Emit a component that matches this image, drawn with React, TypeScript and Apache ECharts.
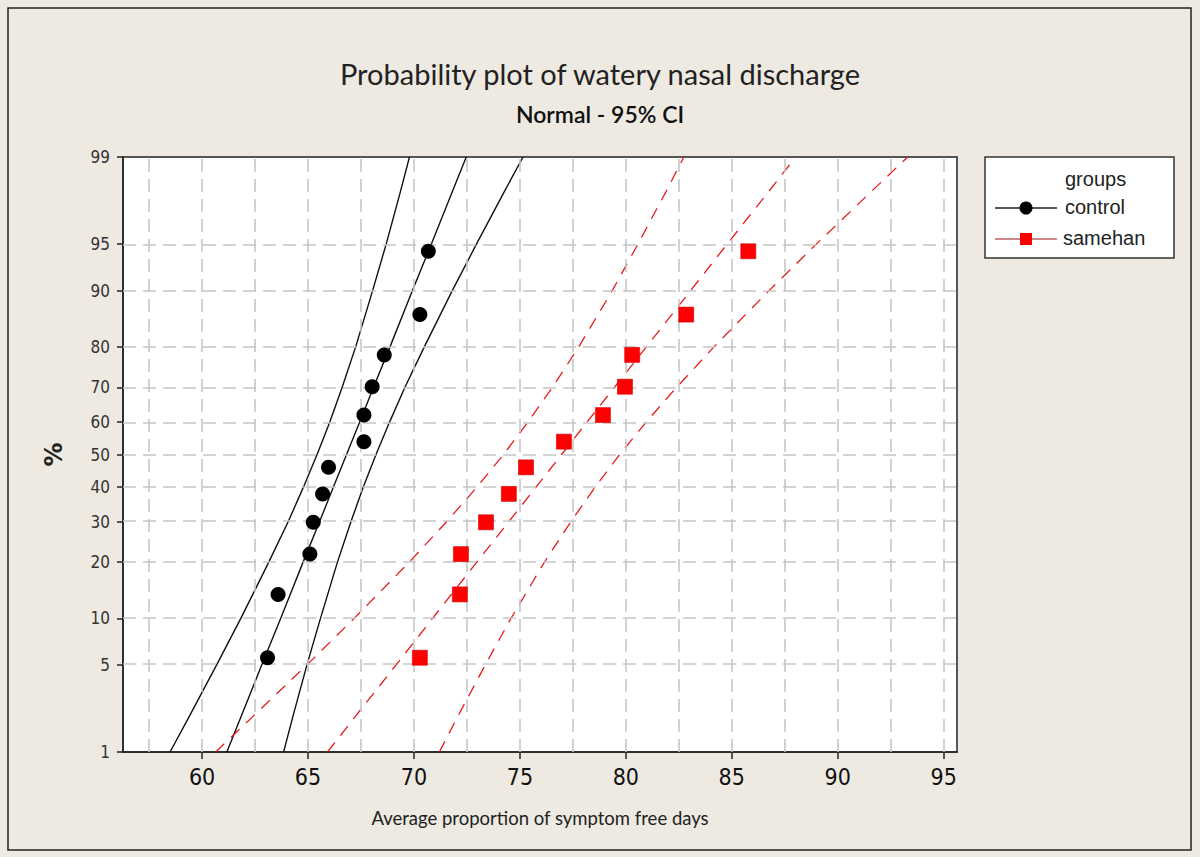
import React, { useEffect, useRef } from "react";
import * as echarts from "echarts";

// ---------- texts ----------
const titleText = "Probability plot of watery nasal discharge";
const subtitleText = "Normal - 95% CI";
const xAxisTitle = "Average proportion of symptom free days";
const yAxisTitle = "%";
const legendTitle = "groups";
const groupNames = ["control", "samehan"];

// ---------- axes ----------
const xTickValues = [60, 65, 70, 75, 80, 85, 90, 95];
const xGridValues = [57.5, 60, 62.5, 65, 67.5, 70, 72.5, 75, 77.5, 80, 82.5, 85, 87.5, 90, 92.5, 95];
const yTickPercents = [1, 5, 10, 20, 30, 40, 50, 60, 70, 80, 90, 95, 99];
const yGridPercents = [5, 10, 20, 30, 40, 50, 60, 70, 80, 90, 95];

// ---------- data points (plotting positions in %) ----------
const pointPercents = [5.6, 13.7, 21.8, 29.8, 37.9, 46.0, 54.0, 62.1, 70.2, 78.2, 86.3, 94.4];
const controlValues = [63.09, 63.59, 65.09, 65.25, 65.69, 65.97, 67.64, 67.64, 68.03, 68.6, 70.28, 70.68];
const samehanValues = [70.28, 72.17, 72.22, 73.4, 74.48, 75.29, 77.08, 78.92, 79.96, 80.3, 82.85, 85.78];

// ---------- fitted lines and 95% CI bands (read at these percents) ----------
const bandPercents = [1, 2, 5, 10, 20, 30, 40, 50, 60, 70, 80, 90, 95, 98, 99];
const controlLower = [58.49, 59.38, 60.69, 61.83, 63.15, 64.07, 64.79, 65.43, 66.03, 66.61, 67.25, 68.05, 68.69, 69.36, 69.79];
const controlFit = [61.17, 61.83, 62.82, 63.71, 64.77, 65.55, 66.2, 66.82, 67.44, 68.09, 68.87, 69.93, 70.82, 71.81, 72.47];
const controlUpper = [63.85, 64.28, 64.95, 65.59, 66.39, 67.03, 67.61, 68.21, 68.85, 69.57, 70.49, 71.81, 72.95, 74.26, 75.15];
const samehanLower = [60.64, 62.37, 64.95, 67.18, 69.78, 71.55, 72.98, 74.23, 75.38, 76.53, 77.78, 79.36, 80.57, 81.89, 82.74];
const samehanFit = [65.92, 67.21, 69.16, 70.88, 72.97, 74.48, 75.77, 76.97, 78.17, 79.46, 80.97, 83.06, 84.78, 86.73, 88.02];
const samehanUpper = [71.2, 72.05, 73.37, 74.58, 76.16, 77.41, 78.56, 79.71, 80.96, 82.39, 84.16, 86.76, 88.99, 91.57, 93.3];

// Normal probability scale: percent -> standard normal quantile (Acklam)
function probit(p: number): number {
  const a = [-39.69683028665376, 220.9460984245205, -275.9285104469687, 138.357751867269, -30.66479806614716, 2.506628277459239];
  const b = [-54.47609879822406, 161.5858368580409, -155.6989798598866, 66.80131188771972, -13.28068155288572];
  const c = [-0.007784894002430293, -0.3223964580411365, -2.400758277161838, -2.549732539343734, 4.374664141464968, 2.938163982698783];
  const d = [0.007784695709041462, 0.3224671290700398, 2.445134137142996, 3.754408661907416];
  const plow = 0.02425;
  if (p < plow) {
    const q = Math.sqrt(-2 * Math.log(p));
    return (((((c[0] * q + c[1]) * q + c[2]) * q + c[3]) * q + c[4]) * q + c[5]) / ((((d[0] * q + d[1]) * q + d[2]) * q + d[3]) * q + 1);
  }
  if (p <= 1 - plow) {
    const q = p - 0.5;
    const r = q * q;
    return ((((((a[0] * r + a[1]) * r + a[2]) * r + a[3]) * r + a[4]) * r + a[5]) * q) / (((((b[0] * r + b[1]) * r + b[2]) * r + b[3]) * r + b[4]) * r + 1);
  }
  const q = Math.sqrt(-2 * Math.log(1 - p));
  return -(((((c[0] * q + c[1]) * q + c[2]) * q + c[3]) * q + c[4]) * q + c[5]) / ((((d[0] * q + d[1]) * q + d[2]) * q + d[3]) * q + 1);
}
const zOf = (pct: number) => probit(pct / 100);

const pairs = (xs: number[], pcts: number[]) => xs.map((x, i) => [x, zOf(pcts[i])]);

const BLACK = "#111111";
const RED = "#e41c1c";
const GRID_TOP = 157;
const GRID_LEFT = 123;
const GRID_W = 834;
const GRID_H = 595;

export default function App() {
  const ref = useRef<HTMLDivElement>(null);

  useEffect(() => {
    if (!ref.current) return;
    const chart = echarts.init(ref.current, null, { renderer: "svg" });

    const yTickZ = yTickPercents.map(zOf);
    const yFormatter = (v: number) => {
      let best = 0;
      let bd = Infinity;
      yTickZ.forEach((z, i) => {
        const dd = Math.abs(z - v);
        if (dd < bd) {
          bd = dd;
          best = i;
        }
      });
      return String(yTickPercents[best]);
    };

    const gridLine = { color: "#c6c6c6", width: 1.6, type: [13, 7] as number[] };
    const blackLine = { color: BLACK, width: 1.4, type: "solid" as const };
    const redLine = { color: RED, width: 1.3, type: [12, 9] as number[] };

    const lineSeries = (name: string, xs: number[], style: any) => ({
      type: "line",
      name,
      data: pairs(xs, bandPercents),
      showSymbol: false,
      symbol: "none",
      lineStyle: style,
      z: 3,
      silent: true,
      clip: true,
    });

    const lx = 985;
    const ly = 157;
    const legendFont = { fontFamily: "Liberation Sans", fontSize: 20, fill: "#222", verticalAlign: "middle" };

    const option: any = {
      animation: false,
      backgroundColor: "#eeeae2",
      title: [
        {
          text: titleText,
          left: "center",
          top: 54,
          textStyle: { fontFamily: "Lato", fontSize: 29, fontWeight: "normal", color: "#222" },
        },
        {
          text: subtitleText,
          left: "center",
          top: 97,
          textStyle: { fontFamily: "Lato", fontSize: 23, fontWeight: 600, color: "#111" },
        },
      ],
      grid: {
        left: GRID_LEFT,
        top: GRID_TOP,
        width: GRID_W,
        height: GRID_H,
        show: true,
        backgroundColor: "#ffffff",
        borderColor: "#222",
        borderWidth: 1.5,
      },
      xAxis: {
        type: "value",
        min: 56.27,
        max: 95.63,
        name: xAxisTitle,
        nameLocation: "middle",
        nameGap: 56,
        nameTextStyle: { fontFamily: "Lato", fontSize: 18.5, color: "#222" },
        axisLine: { show: true, onZero: false, lineStyle: { color: "#222", width: 1.5 } },
        axisTick: { show: true, length: 7, customValues: xTickValues, lineStyle: { color: "#222", width: 1.5 } },
        axisLabel: {
          customValues: xTickValues,
          margin: 13,
          fontFamily: "DejaVu Sans Condensed",
          fontSize: 23,
          color: "#111",
        },
        splitLine: { show: false },
      },
      yAxis: {
        type: "value",
        min: zOf(1),
        max: zOf(99),
        name: yAxisTitle,
        nameLocation: "middle",
        nameGap: 57,
        nameRotate: 90,
        nameTextStyle: { fontFamily: "DejaVu Sans", fontSize: 24, fontWeight: "bold", color: "#222" },
        axisLine: { show: true, onZero: false, lineStyle: { color: "#222", width: 1.5 } },
        axisTick: { show: true, length: 6, customValues: yTickZ, lineStyle: { color: "#222", width: 1.5 } },
        axisLabel: {
          customValues: yTickZ,
          formatter: yFormatter,
          margin: 13,
          fontFamily: "DejaVu Sans Condensed",
          fontSize: 17,
          color: "#333",
        },
        splitLine: { show: false },
      },
      series: [
        {
          type: "line",
          name: "grid",
          data: [],
          z: 1,
          silent: true,
          markLine: {
            silent: true,
            symbol: ["none", "none"],
            label: { show: false },
            lineStyle: gridLine,
            data: [
              ...xGridValues.map((v) => ({ xAxis: v })),
              ...yGridPercents.map((p) => ({ yAxis: zOf(p) })),
            ],
          },
        },
        lineSeries("controlLower", controlLower, blackLine),
        lineSeries("controlFit", controlFit, blackLine),
        lineSeries("controlUpper", controlUpper, blackLine),
        lineSeries("samehanLower", samehanLower, redLine),
        lineSeries("samehanFit", samehanFit, redLine),
        lineSeries("samehanUpper", samehanUpper, redLine),
        {
          type: "scatter",
          name: groupNames[0],
          data: pairs(controlValues, pointPercents),
          symbol: "circle",
          symbolSize: 15,
          itemStyle: { color: "#000", opacity: 1 },
          z: 5,
        },
        {
          type: "scatter",
          name: groupNames[1],
          data: pairs(samehanValues, pointPercents),
          symbol: "rect",
          symbolSize: 15,
          itemStyle: { color: "#ff0000", borderColor: "#d00000", borderWidth: 0.6, opacity: 1 },
          z: 5,
        },
      ],
      graphic: [
        {
          type: "rect",
          shape: { x: 8, y: 8, width: 1183, height: 842 },
          style: { fill: "none", stroke: "#222", lineWidth: 1.5 },
          silent: true,
        },
        {
          type: "group",
          children: [
            {
              type: "rect",
              shape: { x: lx, y: ly, width: 189, height: 101 },
              style: { fill: "#fff", stroke: "#333", lineWidth: 1.5 },
            },
            { type: "text", x: 1065, y: 179, style: { ...legendFont, text: legendTitle } },
            { type: "line", shape: { x1: 995, y1: 208, x2: 1057, y2: 208 }, style: { stroke: "#222", lineWidth: 1.5 } },
            { type: "circle", shape: { cx: 1026, cy: 208, r: 6.5 }, style: { fill: "#000" } },
            { type: "text", x: 1065, y: 207, style: { ...legendFont, text: groupNames[0] } },
            { type: "line", shape: { x1: 995, y1: 239, x2: 1057, y2: 239 }, style: { stroke: "#b86060", lineWidth: 1.5 } },
            { type: "rect", shape: { x: 1020, y: 233, width: 12, height: 12 }, style: { fill: "#ff0000" } },
            { type: "text", x: 1063, y: 238, style: { ...legendFont, text: groupNames[1] } },
          ],
        },
      ],
    };

    chart.setOption(option);
    return () => chart.dispose();
  }, []);

  return <div ref={ref} style={{ position: "fixed", left: 0, top: 0, width: 1200, height: 857 }} />;
}
